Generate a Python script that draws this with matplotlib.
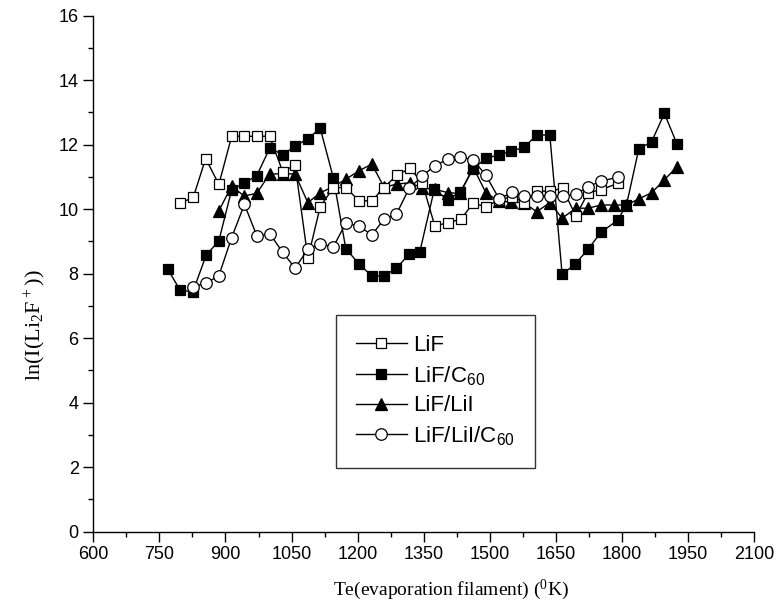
import numpy as np
import matplotlib
matplotlib.use('Agg')
import matplotlib.pyplot as plt
from matplotlib.ticker import MultipleLocator

plt.rcParams['font.family'] = ['Liberation Sans', 'DejaVu Sans']
plt.rcParams['mathtext.default'] = 'regular'

# LiF (open squares)
lif_t = [797, 827, 855, 885, 914, 942, 971, 1000, 1030, 1058, 1087, 1115, 1145, 1173,
         1203, 1232, 1260, 1289, 1319, 1347, 1375, 1405, 1434, 1462, 1491, 1521, 1551,
         1578, 1607, 1636, 1665, 1695, 1723, 1752, 1790]
lif_v = [10.18, 10.37, 11.57, 10.77, 12.26, 12.26, 12.26, 12.26, 11.16, 11.37, 8.48, 10.08,
         10.67, 10.67, 10.26, 10.26, 10.67, 11.06, 11.27, 10.80, 9.48, 9.58, 9.69, 10.18,
         10.08, 10.29, 10.39, 10.20, 10.56, 10.56, 10.65, 9.79, 10.51, 10.60, 10.80]

# LiF/C60 (filled squares)
c60_t = [769, 797, 826, 856, 885, 914, 942, 971, 1001, 1030, 1058, 1087, 1115, 1145, 1173,
         1203, 1232, 1260, 1288, 1317, 1341, 1374, 1404, 1433, 1462, 1491, 1520, 1549, 1578,
         1606, 1636, 1664, 1693, 1723, 1752, 1790, 1810, 1838, 1867, 1896, 1925]
c60_v = [8.14, 7.49, 7.44, 8.57, 9.02, 10.60, 10.80, 11.04, 11.91, 11.68, 11.96, 12.18, 12.51,
         10.96, 8.78, 8.30, 7.93, 7.93, 8.17, 8.61, 8.68, 10.62, 10.29, 10.54, 11.25, 11.58,
         11.68, 11.80, 11.92, 12.30, 12.30, 7.98, 8.29, 8.76, 9.28, 9.66, 10.13, 11.87, 12.09,
         12.97, 12.01]

# LiF/LiI (filled triangles)
lii_t = [885, 914, 942, 971, 1000, 1030, 1058, 1087, 1115, 1145, 1173, 1203, 1232, 1260,
         1289, 1319, 1347, 1375, 1405, 1433, 1462, 1491, 1520, 1549, 1578, 1606, 1636, 1664,
         1695, 1723, 1752, 1781, 1810, 1838, 1867, 1896, 1925]
lii_v = [9.95, 10.72, 10.41, 10.49, 11.09, 11.10, 11.09, 10.20, 10.51, 10.70, 10.93, 11.19,
         11.40, 10.68, 10.78, 10.82, 10.65, 10.62, 10.51, 10.49, 11.30, 10.51, 10.25, 10.22,
         10.20, 9.92, 10.20, 9.72, 10.03, 10.03, 10.13, 10.13, 10.13, 10.32, 10.51, 10.91,
         11.32]

# LiF/LiI/C60 (open circles)
circ_t = [826, 856, 885, 914, 943, 971, 1001, 1030, 1058, 1087, 1114, 1145, 1173, 1202, 1232,
          1260, 1288, 1317, 1347, 1375, 1405, 1433, 1462, 1491, 1521, 1551, 1578, 1607, 1636,
          1665, 1695, 1723, 1752, 1790]
circ_v = [7.60, 7.70, 7.94, 9.12, 10.15, 9.18, 9.23, 8.66, 8.17, 8.76, 8.91, 8.84, 9.56, 9.49,
          9.20, 9.69, 9.85, 10.65, 11.03, 11.35, 11.55, 11.63, 11.53, 11.05, 10.32, 10.52,
          10.41, 10.41, 10.41, 10.41, 10.46, 10.70, 10.87, 10.99]

fig = plt.figure(figsize=(7.8, 6.16), dpi=100)
ax = fig.add_axes([0.1196, 0.1369, 0.8474, 0.8376])

ms = 7.5
kw = dict(color='black', lw=1.0, markeredgecolor='black', markeredgewidth=0.9)
ax.plot(lii_t, lii_v, marker='^', markerfacecolor='black', markersize=ms + 0.5,
        label='LiF/LiI', zorder=2, **kw)
ax.plot(c60_t, c60_v, marker='s', markerfacecolor='black', markersize=ms,
        label='LiF/C$_{60}$', zorder=3, **kw)
ax.plot(lif_t, lif_v, marker='s', markerfacecolor='white', markersize=ms,
        label='LiF', zorder=4, **kw)
ax.plot(circ_t, circ_v, marker='o', markerfacecolor='white', markersize=ms + 0.8,
        label='LiF/LiI/C$_{60}$', zorder=5, **kw)

ax.set_xlim(600, 2100)
ax.set_ylim(0, 16)
ax.xaxis.set_major_locator(MultipleLocator(150))
ax.xaxis.set_minor_locator(MultipleLocator(75))
ax.yaxis.set_major_locator(MultipleLocator(2))
ax.yaxis.set_minor_locator(MultipleLocator(1))
ax.tick_params(which='major', direction='out', length=7, width=1.0, labelsize=13)
ax.tick_params(which='minor', direction='out', length=3.5, width=1.0)
for s in ['top', 'right']:
    ax.spines[s].set_visible(False)
for s in ['left', 'bottom']:
    ax.spines[s].set_linewidth(1.0)

ax.set_xlabel('Te(evaporation filament) ($^0$K)', family='Liberation Serif', fontsize=14,
              va='center')
ax.xaxis.set_label_coords(0.541, -0.113)
ax.set_ylabel('ln(I(Li$_2$F$^+$))', family='Liberation Serif', fontsize=16)
ax.yaxis.set_label_coords(-0.068, 0.40)

h, l = ax.get_legend_handles_labels()
order = [2, 1, 0, 3]
leg = ax.legend([h[i] for i in order], [l[i] for i in order], loc='lower left',
                bbox_to_anchor=(0.3667, 0.124), fontsize=16, frameon=True, fancybox=False,
                edgecolor='black', handlelength=2.3, labelspacing=0.35, borderpad=0.9,
                handletextpad=0.3, borderaxespad=0)
leg.get_frame().set_linewidth(1.0)

plt.savefig('out.png', dpi=100)
